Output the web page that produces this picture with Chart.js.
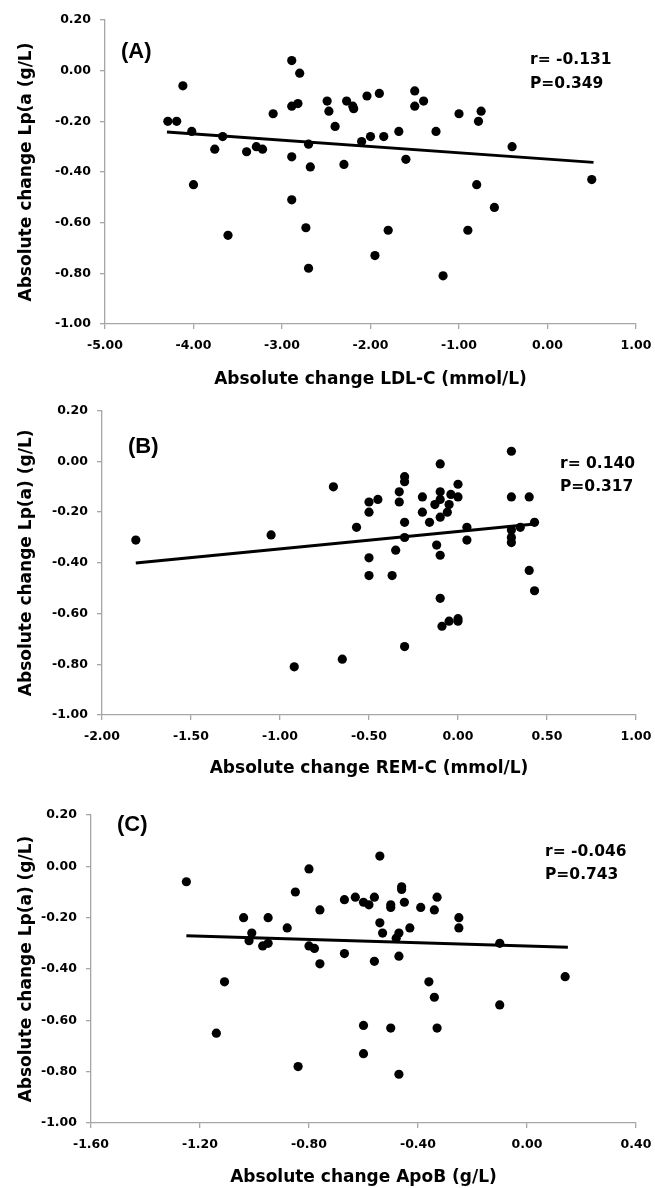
<!DOCTYPE html>
<html><head><meta charset="utf-8">
<script src="https://cdn.jsdelivr.net/npm/chart.js@4.4.1/dist/chart.umd.min.js"></script>
<style>
html,body{margin:0;padding:0;background:#fff;width:655px;height:1188px;overflow:hidden;}
.wrap{position:absolute;left:0;width:655px;}
canvas{display:block;}
</style></head><body>
<div class="wrap" style="top:0px"><canvas id="cA"></canvas></div>
<div class="wrap" style="top:395px"><canvas id="cB"></canvas></div>
<div class="wrap" style="top:790px"><canvas id="cC"></canvas></div>
<script>
// ---------- Panel A: LDL-C ----------
const ldlX = [-4.29,-4.19,-4.12,-4.02,-4.00,-3.67,-3.76,-3.40,-3.29,-3.22,-3.10,-2.89,-2.89,-2.82,-2.80,-2.89,-2.70,-2.68,-2.89,-2.49,-2.47,-2.40,-2.27,-2.20,-2.19,-2.30,-2.10,-2.04,-2.00,-1.90,-1.85,-1.68,-1.60,-1.50,-1.50,-1.40,-1.26,-1.00,-0.78,-0.75,-0.80,-0.40,0.50,-0.60,-3.61,-2.73,-2.70,-1.95,-1.80,-0.90,-1.18];
const ldlLpa = [-0.20,-0.20,-0.06,-0.24,-0.45,-0.26,-0.31,-0.32,-0.30,-0.31,-0.17,0.04,-0.14,-0.13,-0.01,-0.34,-0.29,-0.38,-0.51,-0.12,-0.16,-0.22,-0.12,-0.14,-0.15,-0.37,-0.28,-0.10,-0.26,-0.09,-0.26,-0.24,-0.35,-0.08,-0.14,-0.12,-0.24,-0.17,-0.20,-0.16,-0.45,-0.30,-0.43,-0.54,-0.65,-0.62,-0.78,-0.73,-0.63,-0.63,-0.81];
const ldlFitX = [-4.30, 0.52];
const ldlFitY = [-0.242, -0.362];
const ldlTicks = [-5, -4, -3, -2, -1, 0, 1];

// ---------- Panel B: REM-C ----------
const remX = [-1.81,-1.05,-0.70,-0.57,-0.50,-0.45,-0.50,-0.50,-0.50,-0.37,-0.35,-0.33,-0.33,-0.30,-0.30,-0.30,-0.30,-0.20,-0.20,-0.16,-0.13,-0.12,-0.10,-0.10,-0.10,-0.10,-0.10,-0.06,-0.05,-0.04,0.00,0.00,0.05,0.05,0.30,0.30,0.30,0.30,0.30,0.35,0.40,0.43,0.40,0.43,-0.10,-0.09,-0.05,0.00,0.00,-0.30,-0.65,-0.92];
const remLpa = [-0.31,-0.29,-0.10,-0.26,-0.16,-0.15,-0.20,-0.38,-0.45,-0.45,-0.35,-0.12,-0.16,-0.06,-0.08,-0.24,-0.30,-0.14,-0.20,-0.24,-0.17,-0.33,-0.37,-0.01,-0.12,-0.15,-0.22,-0.20,-0.17,-0.13,-0.09,-0.14,-0.26,-0.31,0.04,-0.14,-0.27,-0.30,-0.32,-0.26,-0.14,-0.24,-0.43,-0.51,-0.54,-0.65,-0.63,-0.62,-0.63,-0.73,-0.78,-0.81];
const remFitX = [-1.81, 0.43];
const remFitY = [-0.401, -0.247];
const remTicks = [-2, -1.5, -1, -0.5, 0, 0.5, 1];

// ---------- Panel C: ApoB ----------
const apobX = [-1.25,-1.11,-1.04,-1.01,-1.02,-0.97,-0.95,-0.95,-0.88,-0.85,-0.80,-0.80,-0.78,-0.76,-0.76,-0.67,-0.67,-0.63,-0.60,-0.58,-0.56,-0.56,-0.54,-0.54,-0.53,-0.50,-0.50,-0.48,-0.47,-0.47,-0.46,-0.46,-0.45,-0.43,-0.39,-0.36,-0.34,-0.33,-0.25,-0.25,-0.10,0.14,-0.34,-0.10,-1.14,-0.60,-0.50,-0.33,-0.60,-0.84,-0.47];
const apobLpa = [-0.06,-0.45,-0.20,-0.26,-0.29,-0.31,-0.20,-0.30,-0.24,-0.10,-0.01,-0.31,-0.32,-0.17,-0.38,-0.13,-0.34,-0.12,-0.14,-0.15,-0.12,-0.37,0.04,-0.22,-0.26,-0.15,-0.16,-0.28,-0.26,-0.35,-0.08,-0.09,-0.14,-0.24,-0.16,-0.45,-0.17,-0.12,-0.20,-0.24,-0.30,-0.43,-0.51,-0.54,-0.65,-0.62,-0.63,-0.63,-0.73,-0.78,-0.81];
const apobFitX = [-1.25, 0.15];
const apobFitY = [-0.270, -0.315];
const apobTicks = [-1.6, -1.2, -0.8, -0.4, 0, 0.4];

// ---------- shared ----------
const lpaTicks = [0.2, 0, -0.2, -0.4, -0.6, -0.8, -1.0];
const xTitles = ['Absolute change LDL-C (mmol/L)', 'Absolute change REM-C (mmol/L)', 'Absolute change ApoB (g/L)'];
const yTitles = ['Absolute change Lp(a (g/L)', 'Absolute change Lp(a) (g/L)', 'Absolute change Lp(a) (g/L)'];
const panelLabels = ['(A)', '(B)', '(C)'];
const rTexts = ['r= -0.131', 'r= 0.140', 'r= -0.046'];
const pTexts = ['P=0.349', 'P=0.317', 'P=0.743'];

const AXIS = '#a6a6a6';
const fmt = v => (Math.abs(v) < 1e-9 ? 0 : v).toFixed(2);

const notesPlugin = {
  id: 'notes',
  afterDraw(chart, args, opts) {
    const ctx = chart.ctx;
    ctx.save();
    ctx.fillStyle = '#000';
    ctx.textBaseline = 'middle';
    ctx.textAlign = 'left';
    for (const n of opts.items || []) {
      ctx.font = n.font;
      ctx.fillText(n.text, n.x, n.y);
    }
    ctx.restore();
  }
};

function makeChart(id, c) {
  const canvas = document.getElementById(id);
  canvas.width = 655; canvas.height = c.h;
  canvas.style.width = '655px'; canvas.style.height = c.h + 'px';
  const tickFont = {family: 'DejaVu Sans', weight: 'bold', size: 12.5};
  const titleFont = {family: 'DejaVu Sans', weight: 'bold', size: 17};
  new Chart(canvas, {
    type: 'scatter',
    data: {
      datasets: [
        {
          data: c.xs.map((x, i) => ({x: x, y: c.ys[i]})),
          backgroundColor: '#000', borderColor: '#000', borderWidth: 0,
          pointRadius: 4.6, pointHoverRadius: 4.6, order: 1
        },
        {
          type: 'line',
          data: c.fx.map((x, i) => ({x: x, y: c.fy[i]})),
          borderColor: '#000', borderWidth: 3, pointRadius: 0, showLine: true,
          fill: false, tension: 0, order: 0
        }
      ]
    },
    options: {
      responsive: false, animation: false, events: [],
      layout: {padding: {left: 0, top: c.padTop, right: 19, bottom: 0}},
      plugins: {
        legend: {display: false}, tooltip: {enabled: false},
        notes: {items: c.notes}
      },
      scales: {
        x: {
          type: 'linear', min: c.xTicks[0], max: c.xTicks[c.xTicks.length - 1],
          afterBuildTicks: s => { s.ticks = c.xTicks.map(v => ({value: v})); },
          afterFit: s => { s.height = c.xH; s.paddingLeft = 0; s.paddingRight = 0; },
          border: {display: true, color: AXIS, width: 1.3},
          grid: {drawOnChartArea: false, drawTicks: true, tickLength: 5, color: AXIS, tickColor: AXIS, lineWidth: 1.3},
          ticks: {font: tickFont, color: '#000', padding: 9.5, maxRotation: 0, autoSkip: false, callback: v => fmt(v)},
          title: {display: true, text: c.xTitle, font: titleFont, color: '#000', padding: {top: 0, bottom: c.xTitlePad}}
        },
        y: {
          type: 'linear', min: -1, max: 0.2,
          afterBuildTicks: s => { s.ticks = lpaTicks.map(v => ({value: v})); },
          afterFit: s => { s.width = c.yW; s.paddingTop = 0; s.paddingBottom = 0; },
          border: {display: true, color: AXIS, width: 1.3},
          grid: {drawOnChartArea: false, drawTicks: true, tickLength: 5, color: AXIS, tickColor: AXIS, lineWidth: 1.3},
          ticks: {font: tickFont, color: '#000', padding: 9, autoSkip: false, callback: v => fmt(v)},
          title: {display: true, text: c.yTitle, font: titleFont, color: '#000', padding: {top: c.yTitlePad, bottom: 0}}
        }
      }
    },
    plugins: [notesPlugin]
  });
}

const labelFont = 'bold 22px "Liberation Sans"';
const statFont = 'bold 15.5px "DejaVu Sans"';

makeChart('cA', {
  h: 395, padTop: 20, yW: 105, xH: 71, xTitlePad: 4.8, yTitlePad: 16.8,
  xs: ldlX, ys: ldlLpa, fx: ldlFitX, fy: ldlFitY, xTicks: ldlTicks,
  xTitle: xTitles[0], yTitle: yTitles[0],
  notes: [
    {text: panelLabels[0], x: 121, y: 52, font: labelFont},
    {text: rTexts[0], x: 530, y: 60, font: statFont},
    {text: pTexts[0], x: 530, y: 84, font: statFont}
  ]
});
makeChart('cB', {
  h: 395, padTop: 15.7, yW: 102, xH: 75, xTitlePad: 11.3, yTitlePad: 16.8,
  xs: remX, ys: remLpa, fx: remFitX, fy: remFitY, xTicks: remTicks,
  xTitle: xTitles[1], yTitle: yTitles[1],
  notes: [
    {text: panelLabels[1], x: 128, y: 51.7, font: labelFont},
    {text: rTexts[1], x: 560, y: 69, font: statFont},
    {text: pTexts[1], x: 560, y: 91.7, font: statFont}
  ]
});
makeChart('cC', {
  h: 398, padTop: 25, yW: 91, xH: 65, xTitlePad: 0, yTitlePad: 16.8,
  xs: apobX, ys: apobLpa, fx: apobFitX, fy: apobFitY, xTicks: apobTicks,
  xTitle: xTitles[2], yTitle: yTitles[2],
  notes: [
    {text: panelLabels[2], x: 117, y: 35, font: labelFont},
    {text: rTexts[2], x: 545, y: 61.7, font: statFont},
    {text: pTexts[2], x: 545, y: 85, font: statFont}
  ]
});
</script>
</body></html>
